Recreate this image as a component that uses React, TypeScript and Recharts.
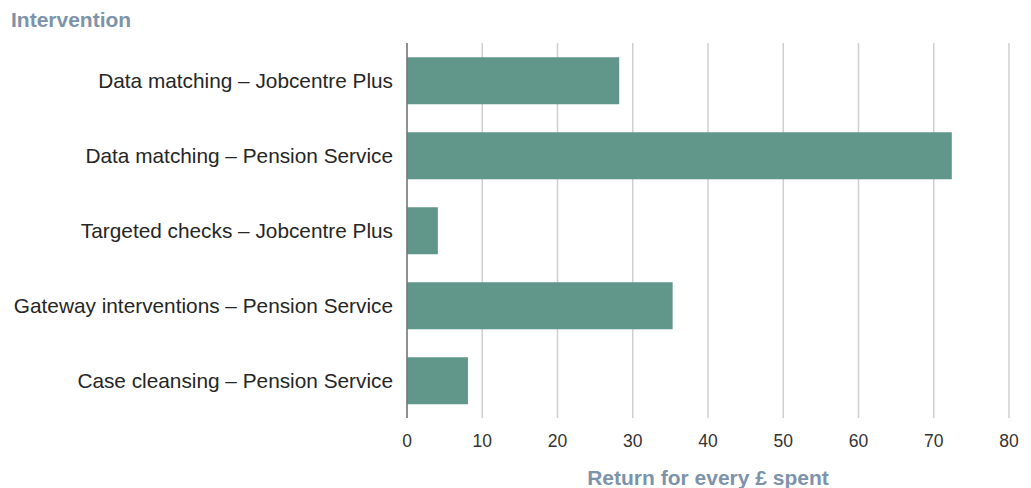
import { BarChart, Bar, XAxis, YAxis, CartesianGrid } from 'recharts';

// Return per £1 spent, by fraud and error intervention
const interventions = [
    'Data matching – Jobcentre Plus',
    'Data matching – Pension Service',
    'Targeted checks – Jobcentre Plus',
    'Gateway interventions – Pension Service',
    'Case cleansing – Pension Service',
];
const returns = [28.2, 72.4, 4.1, 35.3, 8.1];
const xTicks = [0, 10, 20, 30, 40, 50, 60, 70, 80];

const data = interventions.map((name, i) => ({ name, value: returns[i] }));

const FONT = '"Liberation Sans", Arial, Helvetica, sans-serif';
const HEADING = '#7d93ab';

export default function App() {
    return (
        <div style={{ position: 'absolute', left: 0, top: 0, width: 1031, height: 488, background: '#fff', fontFamily: FONT }}>
            <div style={{ position: 'absolute', left: 11, top: 8, fontSize: 21, fontWeight: 700, color: HEADING, lineHeight: '24px' }}>
                Intervention
            </div>
            <BarChart
                width={1031}
                height={488}
                data={data}
                layout="vertical"
                margin={{ top: 43, right: 22, bottom: 30, left: 0 }}
                barCategoryGap="19%"
            >
                <CartesianGrid horizontal={false} stroke="#cfcfcf" strokeWidth={1.5} />
                <XAxis
                    type="number"
                    domain={[0, 80]}
                    ticks={xTicks}
                    axisLine={false}
                    tickLine={false}
                    tickSize={0}
                    tickMargin={17}
                    height={40}
                    tick={{ fontSize: 17.5, fill: '#333', fontFamily: FONT }}
                />
                <YAxis
                    type="category"
                    dataKey="name"
                    width={407}
                    axisLine={{ stroke: '#777', strokeWidth: 1.5 }}
                    tickLine={false}
                    tickSize={0}
                    tickMargin={14}
                    tick={{ fontSize: 20.8, fill: '#262626', fontFamily: FONT }}
                />
                <Bar dataKey="value" fill="#61968b" isAnimationActive={false} />
            </BarChart>
            <div style={{ position: 'absolute', left: 407, width: 602, top: 466, textAlign: 'center', fontSize: 21, fontWeight: 700, color: HEADING, lineHeight: '24px' }}>
                Return for every £ spent
            </div>
        </div>
    );
}
